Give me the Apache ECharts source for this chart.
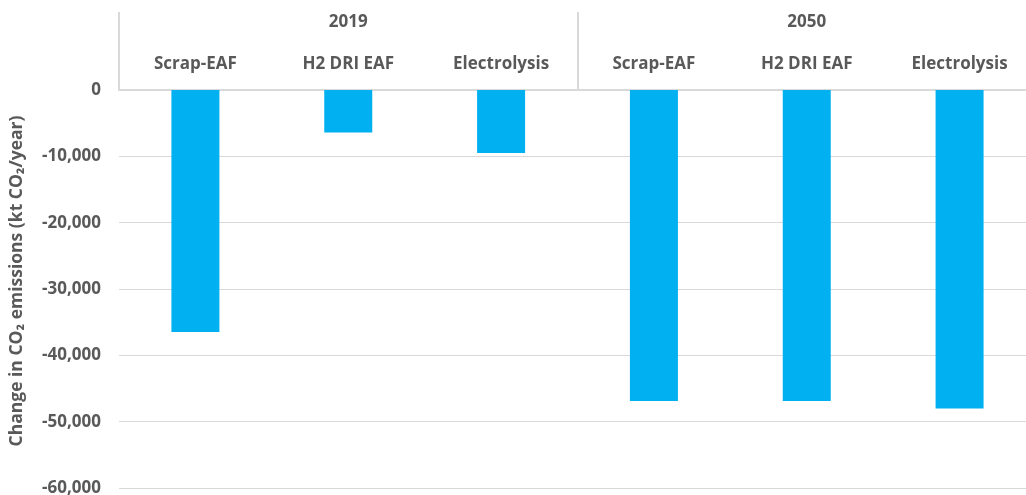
<!DOCTYPE html>
<html>
<head>
<meta charset="utf-8">
<script src="https://cdn.jsdelivr.net/npm/echarts@6/dist/echarts.min.js"></script>
<style>
  html, body { margin: 0; padding: 0; background: #fff; }
  #chart { width: 1026px; height: 495px; }
</style>
</head>
<body>
<div id="chart"></div>
<script>
// Technologies shown within each year group
const technologies = ['Scrap-EAF', 'H2 DRI EAF', 'Electrolysis', 'Scrap-EAF', 'H2 DRI EAF', 'Electrolysis'];
const years = ['2019', '2050'];
// Change in CO2 emissions, kt CO2 per year
const emissionChange = [-36500, -6400, -9500, -46900, -46900, -48000];
const yTicks = { min: -60000, max: 0, step: 10000 };

const textColor = '#595959';
const lineColor = '#d9d9d9';
const fontFamily = '"Open Sans", sans-serif';
const fontSize = 17;

const chart = echarts.init(document.getElementById('chart'));
chart.setOption({
  animation: false,
  // the plot runs a little past the right edge of the canvas
  grid: { left: 119, right: -10, top: 90, bottom: 7, containLabel: false, outerBoundsMode: 'none' },
  xAxis: [
    {
      type: 'category',
      position: 'top',
      data: technologies,
      axisLine: { show: true, lineStyle: { color: lineColor, width: 2 } },
      axisTick: { show: false },
      axisLabel: {
        margin: 17, color: textColor, fontSize: fontSize, fontWeight: 'bold', fontFamily: fontFamily
      },
      splitLine: { show: false }
    },
    {
      type: 'category',
      position: 'top',
      data: years,
      axisLine: { show: false },
      axisTick: { show: true, length: 78, lineStyle: { color: lineColor, width: 2 } },
      axisLabel: {
        margin: 59, color: textColor, fontSize: fontSize, fontWeight: 'bold', fontFamily: fontFamily
      },
      splitLine: { show: false }
    }
  ],
  yAxis: {
    type: 'value',
    min: yTicks.min,
    max: yTicks.max,
    interval: yTicks.step,
    name: 'Change in CO\u2082 emissions (kt CO\u2082/year)',
    nameLocation: 'middle',
    nameGap: 93,
    nameTextStyle: {
      color: textColor, fontSize: 17.5, fontWeight: 'bold', fontFamily: fontFamily,
      padding: [0, 0, 0, 16]
    },
    axisLine: { show: false },
    axisTick: { show: false },
    axisLabel: {
      margin: 18, color: textColor, fontSize: fontSize, fontWeight: 'bold', fontFamily: fontFamily,
      formatter: v => v.toLocaleString('en-US')
    },
    splitLine: { lineStyle: { color: lineColor, width: 1 } }
  },
  series: [{
    type: 'bar',
    xAxisIndex: 0,
    data: emissionChange,
    barWidth: 48,
    itemStyle: { color: '#00b0f0' }
  }]
});
</script>
</body>
</html>
